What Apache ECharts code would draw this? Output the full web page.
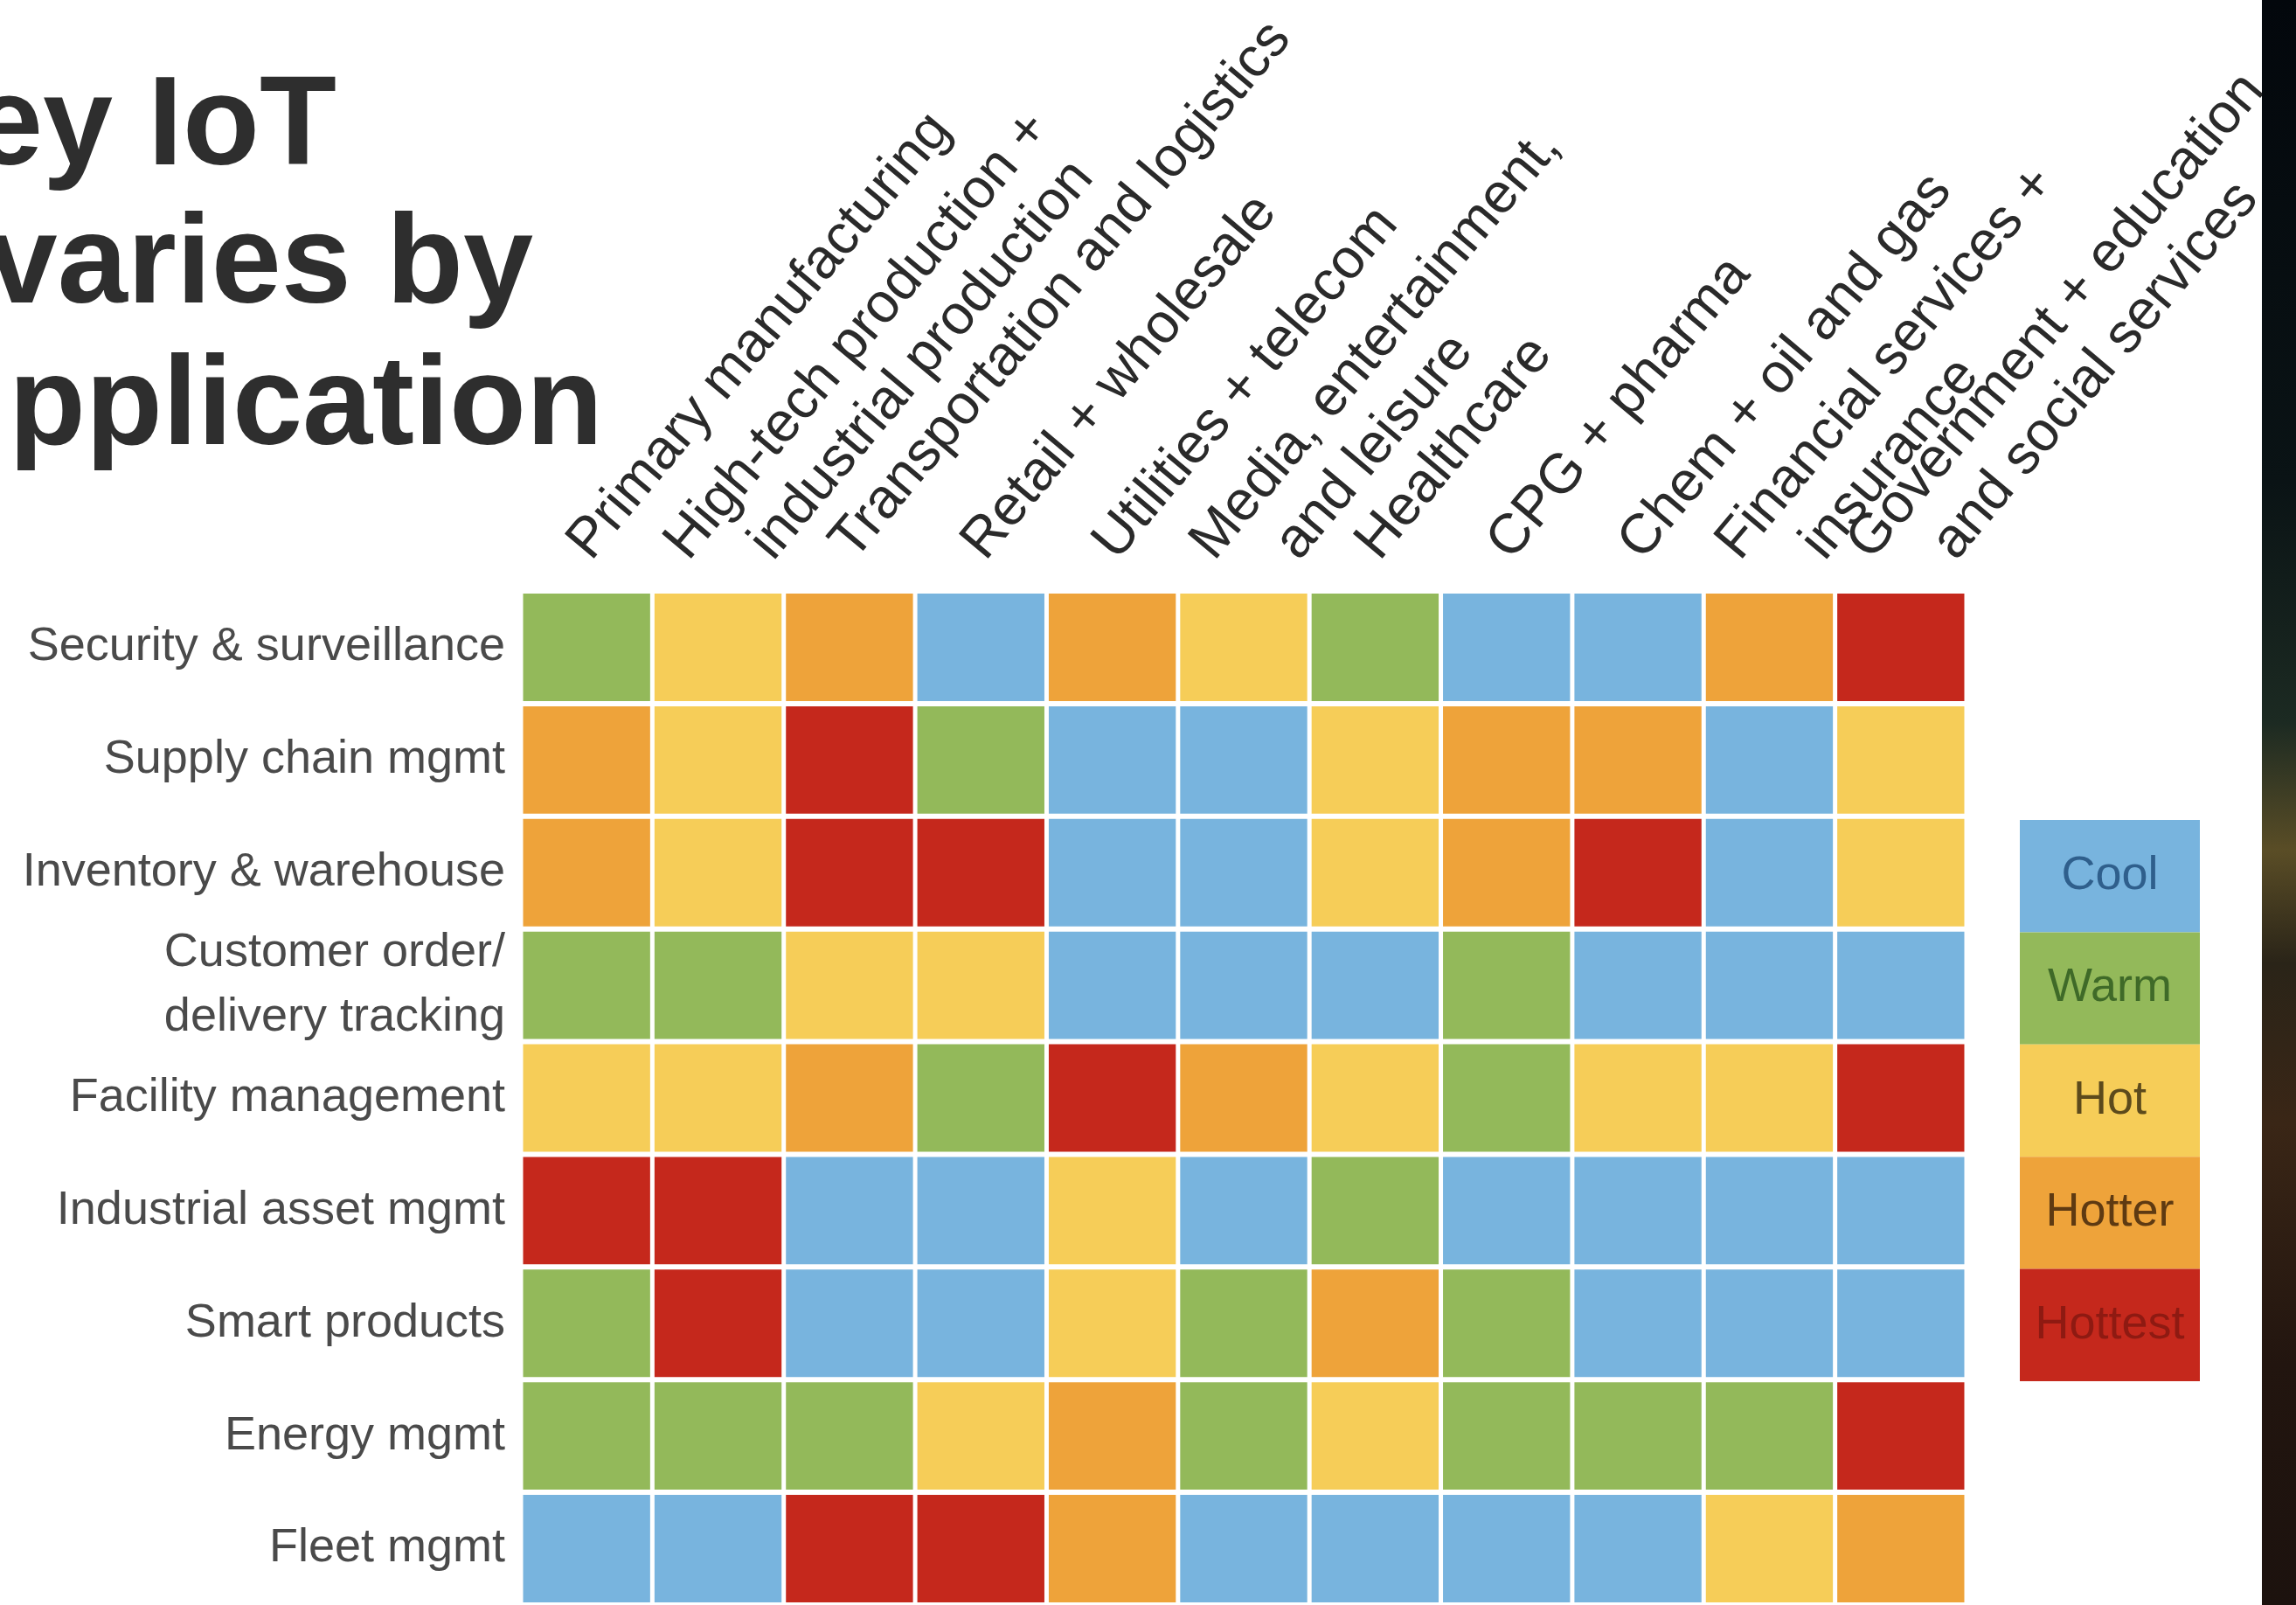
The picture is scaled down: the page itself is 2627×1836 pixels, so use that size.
<!DOCTYPE html>
<html>
<head>
<meta charset="utf-8">
<style>
  html, body { margin: 0; padding: 0; background: #fff; }
  #chart { width: 2627px; height: 1836px; }
</style>
<script src="https://cdn.jsdelivr.net/npm/echarts@6/dist/echarts.min.js"></script>
</head>
<body>
<div id="chart"></div>
<script>
// column headers, one entry per line of the rotated label
const columns = [
  ['Primary manufacturing'],
  ['High-tech production +', 'industrial production'],
  ['Transportation and logistics'],
  ['Retail + wholesale'],
  ['Utilities + telecom'],
  ['Media, entertainment,', 'and leisure'],
  ['Healthcare'],
  ['CPG + pharma'],
  ['Chem + oil and gas'],
  ['Financial services +', 'insurance'],
  ['Government + education', 'and social services']
]

const rows = [
  'Security & surveillance',
  'Supply chain mgmt',
  'Inventory & warehouse',
  'Customer order/\ndelivery tracking',
  'Facility management',
  'Industrial asset mgmt',
  'Smart products',
  'Energy mgmt',
  'Fleet mgmt'
]

const levels = ['Cool', 'Warm', 'Hot', 'Hotter', 'Hottest']

// 0 cool, 1 warm, 2 hot, 3 hotter, 4 hottest
const securitySurveillance = [1, 2, 3, 0, 3, 2, 1, 0, 0, 3, 4]
const supplyChain          = [3, 2, 4, 1, 0, 0, 2, 3, 3, 0, 2]
const inventoryWarehouse   = [3, 2, 4, 4, 0, 0, 2, 3, 4, 0, 2]
const customerOrder        = [1, 1, 2, 2, 0, 0, 0, 1, 0, 0, 0]
const facilityMgmt         = [2, 2, 3, 1, 4, 3, 2, 1, 2, 2, 4]
const industrialAsset      = [4, 4, 0, 0, 2, 0, 1, 0, 0, 0, 0]
const smartProducts        = [1, 4, 0, 0, 2, 1, 3, 1, 0, 0, 0]
const energyMgmt           = [1, 1, 1, 2, 3, 1, 2, 1, 1, 1, 4]
const fleetMgmt            = [0, 0, 4, 4, 3, 0, 0, 0, 0, 2, 3]

const rowValues = [
  securitySurveillance, supplyChain, inventoryWarehouse, customerOrder,
  facilityMgmt, industrialAsset, smartProducts, energyMgmt, fleetMgmt
]

const titleLines = ['ey IoT', 'varies by', 'pplication']

const levelColors = ['#78b4de', '#93b95a', '#f6cd58', '#eea33a', '#c5281c']
const levelTextColors = ['#2f5f8c', '#3f6a28', '#5c4a1c', '#5e3a12', '#8e1a12']
const FONT = '"Liberation Sans", Arial, Helvetica, sans-serif'
const ROT = 50 * Math.PI / 180

const cellData = []
rowValues.forEach((vals, r) => {
  vals.forEach((v, c) => cellData.push([c, r, v]))
})

const chart = echarts.init(document.getElementById('chart'))

chart.setOption({
  backgroundColor: '#ffffff',
  animation: false,
  grid: [
    { left: 596, top: 676, width: 1654, height: 1162 },
    { left: 2311, top: 938, width: 206, height: 642 }
  ],
  xAxis: [
    {
      type: 'category',
      gridIndex: 0,
      position: 'top',
      data: columns.map(c => c.join(' ')),
      axisLine: { show: false },
      axisTick: { show: false },
      axisLabel: { show: false },
      splitLine: { show: false }
    },
    { type: 'category', gridIndex: 1, data: ['legend'], show: false }
  ],
  yAxis: [
    {
      type: 'category',
      gridIndex: 0,
      inverse: true,
      data: rows,
      axisLine: { show: false },
      axisTick: { show: false },
      splitLine: { show: false },
      axisLabel: {
        fontSize: 54,
        fontFamily: FONT,
        color: '#4a4a4a',
        margin: 18,
        lineHeight: 74,
        align: 'right'
      }
    },
    { type: 'category', gridIndex: 1, inverse: true, data: levels, show: false }
  ],
  series: [
    {
      // heat cells
      type: 'custom',
      xAxisIndex: 0,
      yAxisIndex: 0,
      data: cellData,
      encode: { x: 0, y: 1 },
      renderItem: (params, api) => {
        const p = api.coord([api.value(0), api.value(1)])
        const s = api.size([1, 1])
        return {
          type: 'rect',
          shape: { x: p[0] - s[0] / 2 + 2.5, y: p[1] - s[1] / 2 + 3, width: s[0] - 5, height: s[1] - 6 },
          style: { fill: levelColors[api.value(2)] }
        }
      }
    },
    {
      // rotated column headers
      type: 'custom',
      xAxisIndex: 0,
      yAxisIndex: 0,
      clip: false,
      data: columns.map((c, i) => [i, 0]),
      encode: { x: 0, y: 1 },
      renderItem: (params, api) => {
        const i = api.value(0)
        const p = api.coord([i, 0])
        const s = api.size([1, 1])
        const top = p[1] - s[1] / 2
        const lines = columns[i]
        return {
          type: 'group',
          children: lines.map((t, j) => {
            const dx = lines.length === 1 ? -15 : (j === 0 ? -54 : 43)
            return {
              type: 'text',
              x: p[0] + dx + 31,
              y: top - 24,
              rotation: ROT,
              style: {
                text: t,
                fill: '#2a2a2a',
                font: '64px ' + FONT,
                align: 'left',
                verticalAlign: 'bottom'
              }
            }
          })
        }
      }
    },
    {
      // legend column
      type: 'custom',
      xAxisIndex: 1,
      yAxisIndex: 1,
      data: levels.map((l, i) => [0, i]),
      encode: { x: 0, y: 1 },
      renderItem: (params, api) => {
        const i = api.value(1)
        const p = api.coord([0, i])
        const s = api.size([1, 1])
        return {
          type: 'group',
          children: [
            {
              type: 'rect',
              shape: { x: p[0] - s[0] / 2, y: p[1] - s[1] / 2, width: s[0], height: s[1] },
              style: { fill: levelColors[i] }
            },
            {
              type: 'text',
              x: p[0],
              y: p[1],
              style: {
                text: levels[i],
                fill: levelTextColors[i],
                font: '54px ' + FONT,
                align: 'center',
                verticalAlign: 'middle'
              }
            }
          ]
        }
      }
    }
  ],
  graphic: [
    {
      type: 'text', x: 385, y: 220, z: 10,
      style: { text: titleLines[0], fill: '#2e2e2e', font: 'bold 144px ' + FONT, align: 'right', verticalAlign: 'bottom' }
    },
    {
      type: 'text', x: 610, y: 378, z: 10,
      style: { text: titleLines[1], fill: '#2e2e2e', font: 'bold 144px ' + FONT, align: 'right', verticalAlign: 'bottom' }
    },
    {
      type: 'text', x: 690, y: 540, z: 10,
      style: { text: titleLines[2], fill: '#2e2e2e', font: 'bold 144px ' + FONT, align: 'right', verticalAlign: 'bottom' }
    },
    {
      type: 'rect', z: 20,
      shape: { x: 2588, y: 0, width: 39, height: 1836 },
      style: {
        fill: new echarts.graphic.LinearGradient(0, 0, 0, 1, [
          { offset: 0, color: '#03070c' },
          { offset: 0.3, color: '#0a1315' },
          { offset: 0.45, color: '#1c2a22' },
          { offset: 0.53, color: '#5a4d26' },
          { offset: 0.6, color: '#2a2418' },
          { offset: 0.7, color: '#3a2616' },
          { offset: 0.85, color: '#22150f' },
          { offset: 1, color: '#1c120e' }
        ])
      }
    }
  ]
})
</script>
</body>
</html>
